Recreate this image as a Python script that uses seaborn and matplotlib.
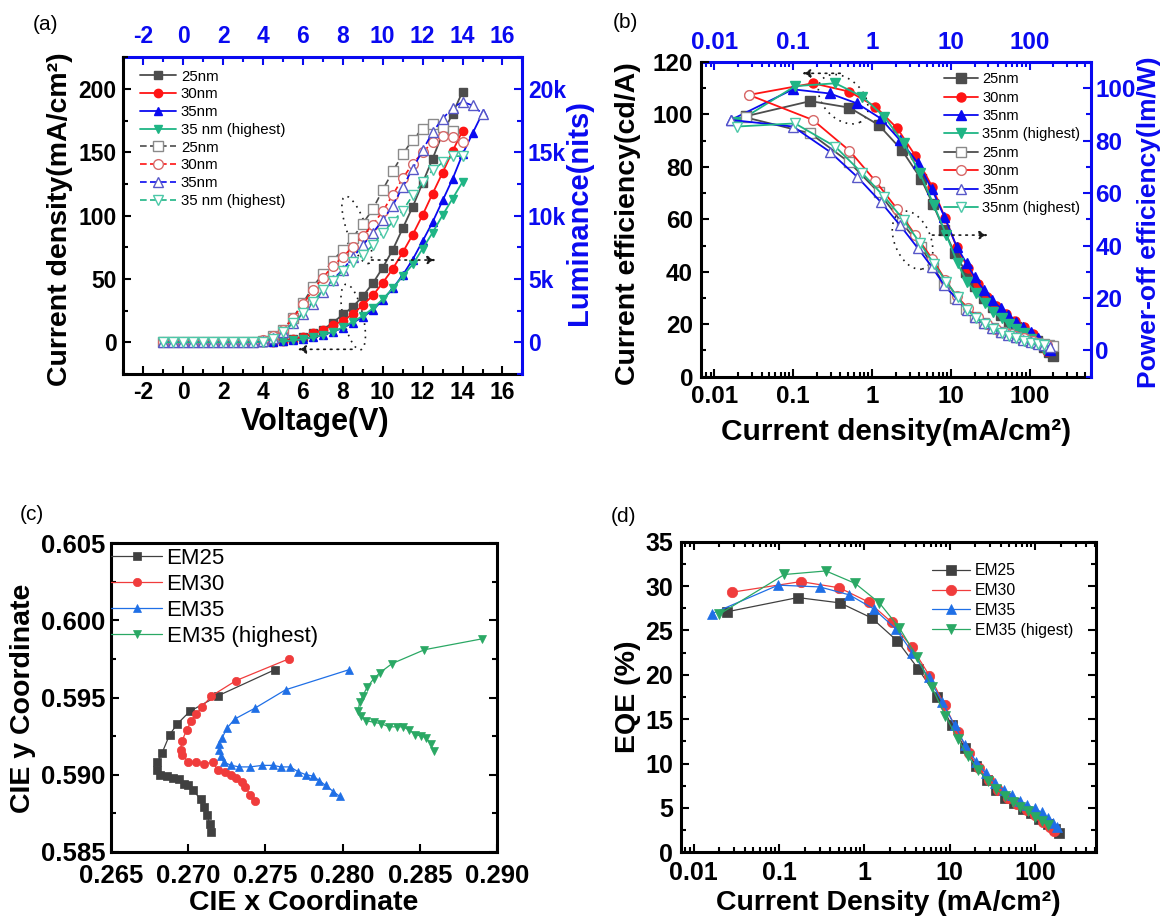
import matplotlib
matplotlib.use('Agg')
import matplotlib.pyplot as plt
import seaborn as sns
from matplotlib.ticker import MultipleLocator, FuncFormatter, FixedLocator, NullFormatter, FormatStrFormatter
from matplotlib.patches import Ellipse

sns.set_theme(style='ticks')
plt.rcParams['font.family'] = ['Liberation Sans', 'DejaVu Sans']
plt.rcParams['font.weight'] = 'bold'
plt.rcParams['axes.labelweight'] = 'bold'
plt.rcParams['axes.unicode_minus'] = False
for k in ['text.color', 'axes.labelcolor', 'xtick.color', 'ytick.color', 'axes.edgecolor']:
    plt.rcParams[k] = 'black'

# ---------------- (a) J-V-L data ----------------
V_a = [-1, -0.5, 0, 0.5, 1, 1.5, 2, 2.5, 3, 3.5, 4, 4.5, 5, 5.5, 6, 6.5, 7, 7.5, 8, 8.5,
       9, 9.5, 10, 10.5, 11, 11.5, 12, 12.5, 13, 13.5, 14]
V_a35 = V_a + [14.5, 15]
V_a25h = V_a[:-1]
J25 = [0, 0, 0, 0, 0, 0, 0, 0, 0, 0, 0.2, 0.6, 1.3, 2.4, 4.5, 7, 10, 15.5, 22, 28,
       36.5, 46.5, 59, 73, 90, 107, 126, 145, 165, 180.5, 198]
J30 = [0, 0, 0, 0, 0, 0, 0, 0, 0, 0, 0.2, 0.5, 1.3, 2.4, 4.5, 7, 9.7, 13.4, 17, 22.3,
       29.4, 37, 47, 58, 71, 85, 100.6, 117.5, 134, 151, 167]
J35 = [0, 0, 0, 0, 0, 0, 0, 0, 0, 0, 0.1, 0.3, 0.8, 1.6, 2.6, 4, 5.8, 8.4, 11.3, 15.5,
       20, 25.5, 33.4, 42.6, 53, 65.4, 80, 95, 112, 129, 148.5, 165, 181]
J35h = [0, 0, 0, 0, 0, 0, 0, 0, 0, 0, 0.1, 0.3, 0.8, 1.6, 2.6, 4, 5.8, 8.4, 11.8, 16.3,
        20.8, 26.8, 34, 42.6, 52.3, 61.5, 74, 86.7, 100.4, 113.5, 126.7]
L25 = [0, 0, 0, 0, 0, 0, 0, 0, 0, 0, 130, 500, 1000, 1950, 3100, 4400, 5400, 6450, 7330, 8250,
       9380, 10500, 12040, 13500, 14850, 16000, 16870, 17270, 17000, 16700]
L30 = [0, 0, 0, 0, 0, 0, 0, 0, 0, 0, 180, 500, 970, 1900, 3000, 4130, 5120, 6020, 6750, 7540,
       8400, 9300, 10350, 11650, 12950, 14100, 15000, 15800, 16300, 16200, 15800]
L35 = [0, 0, 0, 0, 0, 0, 0, 0, 0, 0, 80, 350, 800, 1500, 2200, 3000, 4000, 4950, 5750, 6700,
       7650, 8650, 9650, 10800, 12270, 13700, 15160, 16600, 17660, 18500, 19000, 18700, 18050]
L35h = [0, 0, 0, 0, 0, 0, 0, 0, 0, 0, 50, 300, 840, 1500, 2290, 3200, 4130, 4860, 5650, 6360,
        6890, 7670, 8670, 9500, 10400, 11600, 12670, 13600, 14200, 14700, 14700]

# ---------------- (b) efficiency data ----------------
Jb25 = [0.025, 0.166, 0.52, 1.22, 2.4, 4.2, 5.9, 8.2, 11.3, 15.5, 20.5, 26.5, 34, 43, 54, 67, 83, 102, 124, 150, 175, 195]
CE25 = [99.3, 105.1, 102.6, 96.0, 86.4, 75.4, 66, 56, 47, 40, 34.5, 30, 26.5, 23.5, 21, 19, 17.2, 15.5, 13.5, 11.5, 9.5, 7.9]
PE25 = [88.9, 82.8, 71.7, 60.3, 48.8, 39.5, 32, 25.5, 20, 16, 12.8, 10.4, 8.6, 7.2, 6.1, 5.2, 4.4, 3.7, 3.0, 2.4, 2.0, 1.7]
Jb30 = [0.028, 0.179, 0.52, 1.11, 2.1, 3.57, 5.8, 8.5, 11.9, 16.5, 22, 29, 38, 50, 65, 85, 110, 140, 165]
CE30 = [107.5, 111.9, 108.7, 103, 94.7, 84.2, 72.5, 60.5, 49.3, 41.5, 35.5, 30.5, 26.8, 23.8, 21.2, 18.8, 16.2, 12.5, 9.8]
PE30 = [97.4, 87.9, 76.2, 64.6, 53.9, 43.9, 35, 27, 20.6, 16.2, 12.8, 10.2, 8.3, 6.8, 5.6, 4.6, 3.6, 2.6, 2.0]
Jb35 = [0.0165, 0.1, 0.293, 0.652, 1.29, 2.27, 3.85, 5.78, 8.3, 11.9, 15.9, 20, 26.2, 33.8, 43, 53.5, 66.6, 83, 103, 126, 151, 179]
CE35 = [98, 109.6, 108, 104.2, 98.5, 90.2, 81.4, 71.4, 61, 49.6, 43.2, 38.1, 33, 29.2, 26.1, 23.5, 21, 19.1, 17, 14.6, 12.1, 10.2]
PE35 = [87.9, 85.4, 75.8, 66.2, 56.7, 47.8, 38.9, 31.8, 24.8, 19.7, 15.6, 12.8, 10.4, 8.6, 7.2, 6.0, 5.0, 4.1, 3.3, 2.6, 2.0, 1.5]
Jb35h = [0.0195, 0.106, 0.345, 0.76, 1.44, 2.54, 4.07, 6.1, 8.8, 12.2, 16, 21, 27, 34.5, 44, 54.7, 68, 85, 103, 126, 151]
CE35h = [97, 110.8, 111.9, 106.8, 99.1, 89, 77.5, 65.5, 54, 43.2, 36.2, 31.8, 28, 24.8, 22.2, 20.1, 18.2, 16.5, 14.5, 12.3, 10.5]
PE35h = [85.4, 86.6, 77.7, 67.5, 58.6, 49.7, 41, 33.1, 26.1, 20.4, 15.6, 12.3, 10, 8.3, 6.8, 5.6, 4.6, 3.7, 3.0, 2.4, 1.9]

# ---------------- (c) CIE data ----------------
cx25 = [0.2756, 0.2719, 0.2701, 0.2693, 0.2688, 0.2683, 0.2680, 0.2680, 0.2682, 0.2686, 0.2690,
        0.2694, 0.2697, 0.2700, 0.2703, 0.2708, 0.2710, 0.2712, 0.2714, 0.2715]
cy25 = [0.5968, 0.5951, 0.5941, 0.5933, 0.5926, 0.5914, 0.5908, 0.5903, 0.5900, 0.5899, 0.5898,
        0.5897, 0.5894, 0.5893, 0.5890, 0.5884, 0.5879, 0.5874, 0.5868, 0.5863]
cx30 = [0.2765, 0.2731, 0.2715, 0.2709, 0.2705, 0.2702, 0.2699, 0.2696, 0.2695, 0.2696, 0.2700,
        0.2705, 0.2710, 0.2716, 0.2719, 0.2724, 0.2728, 0.2731, 0.2735, 0.2737, 0.2740, 0.2743]
cy30 = [0.5975, 0.5961, 0.5951, 0.5944, 0.5939, 0.5935, 0.5929, 0.5922, 0.5916, 0.5913, 0.5908,
        0.5908, 0.5907, 0.5908, 0.5903, 0.5902, 0.5900, 0.5898, 0.5895, 0.5892, 0.5887, 0.5883]
cx35 = [0.2804, 0.2763, 0.2743, 0.2730, 0.2725, 0.2722, 0.2720, 0.2720, 0.2721, 0.2723, 0.2728,
        0.2733, 0.2740, 0.2748, 0.2755, 0.2760, 0.2766, 0.2771, 0.2776, 0.2781, 0.2785, 0.2789,
        0.2794, 0.2798]
cy35 = [0.5968, 0.5955, 0.5943, 0.5936, 0.5930, 0.5924, 0.5920, 0.5916, 0.5912, 0.5908, 0.5906,
        0.5905, 0.5905, 0.5906, 0.5906, 0.5905, 0.5905, 0.5902, 0.5900, 0.5899, 0.5896, 0.5893,
        0.5889, 0.5886]
cx35h = [0.2890, 0.2853, 0.2832, 0.2824, 0.2820, 0.2816, 0.2813, 0.2811, 0.2810, 0.2812, 0.2815,
         0.2820, 0.2825, 0.2830, 0.2835, 0.2839, 0.2843, 0.2847, 0.2851, 0.2854, 0.2857, 0.2859]
cy35h = [0.5988, 0.5981, 0.5972, 0.5966, 0.5962, 0.5957, 0.5951, 0.5947, 0.5941, 0.5938, 0.5935,
         0.5934, 0.5933, 0.5931, 0.5931, 0.5931, 0.5929, 0.5926, 0.5925, 0.5924, 0.5920, 0.5915]

# ---------------- (d) EQE data ----------------
Jd25 = [0.0247, 0.166, 0.52, 1.22, 2.44, 4.26, 7.1, 10.6, 15.2, 20.5, 27, 35, 45, 57, 72, 90, 112, 140, 170, 191]
EQE25 = [27.1, 28.7, 28.1, 26.4, 23.8, 20.7, 17.5, 14.3, 11.7, 9.7, 8.2, 7.0, 6.1, 5.5, 4.9, 4.4, 3.8, 3.2, 2.6, 2.2]
Jd30 = [0.028, 0.18, 0.51, 1.12, 2.1, 3.6, 5.8, 8.7, 12.4, 16.8, 22, 29, 37, 48, 62, 80, 100, 125, 150, 165]
EQE30 = [29.3, 30.5, 29.8, 28.2, 25.9, 23.1, 19.9, 16.6, 13.6, 11.2, 9.5, 8.1, 7.0, 6.1, 5.4, 4.8, 4.2, 3.4, 2.8, 2.4]
Jd35 = [0.0165, 0.098, 0.30, 0.67, 1.3, 2.32, 3.66, 5.66, 8.2, 11.4, 15.2, 20.5, 26.5, 34, 43, 54, 66, 81, 99, 119, 141, 161, 179]
EQE35 = [26.9, 30.1, 29.9, 29.0, 27.4, 25.2, 22.5, 19.7, 16.9, 14.3, 12.1, 10.2, 8.9, 7.8, 7.0, 6.4, 5.8, 5.3, 4.96, 4.5, 3.9, 3.3, 2.8]
Jd35h = [0.0198, 0.116, 0.355, 0.78, 1.5, 2.57, 4.14, 6.2, 8.85, 12.4, 16.4, 21.6, 27.9, 35.2, 44, 55, 67, 83, 101, 121, 142]
EQE35h = [26.8, 31.3, 31.7, 30.3, 28.1, 25.3, 22.0, 18.6, 15.4, 12.8, 10.8, 9.3, 8.0, 7.1, 6.3, 5.7, 5.1, 4.6, 4.0, 3.5, 3.1]

labels_ab_a = ['25nm', '30nm', '35nm', '35 nm (highest)']
labels_ab_b = ['25nm', '30nm', '35nm', '35nm (highest)']
labels_cd_c = ['EM25', 'EM30', 'EM35', 'EM35 (highest)']
labels_cd_d = ['EM25', 'EM30', 'EM35', 'EM35 (higest)']
log_major = [0.01, 0.1, 1, 10, 100]

# colours
A_COL = ['#4d4d4d', '#ff1414', '#0a0af0', '#1fb585']
A_HOL = ['#8a8a8a', '#d66a6a', '#5858c8', '#4cc8a8']
C_COL = ['#404040', '#f03c3c', '#1f6fe6', '#2aa864']
MARK_F = ['s', 'o', '^', 'v']

BLUE = '#0a0af0'


def log_minor(lo, hi):
    return [m * 10.0 ** e for e in range(-3, 3) for m in range(2, 10) if lo <= m * 10.0 ** e <= hi]


def draw(ax, x, y, color, marker, ms, label, mfc=None, mec=None, ls='-', lw=1.2, mew=1.0):
    sns.lineplot(x=x, y=y, ax=ax, color=color, marker=marker, markersize=ms,
                 markerfacecolor=(mfc if mfc is not None else color),
                 markeredgecolor=(mec if mec is not None else color),
                 markeredgewidth=mew, linestyle=ls, linewidth=lw, label=label,
                 sort=False, estimator=None, errorbar=None)


def kill_legend(ax):
    lg = ax.get_legend()
    if lg is not None:
        lg.remove()


def set_ylab(ax, text, x, y, size, color='black'):
    ax.set_ylabel(text, fontsize=size, color=color, rotation=90)
    ax.yaxis.label.set_va('center')
    ax.yaxis.label.set_ha('center')
    ax.yaxis.set_label_coords(x, y)


def set_xlab(ax, text, x, y, size):
    ax.set_xlabel(text, fontsize=size)
    ax.xaxis.label.set_va('center')
    ax.xaxis.set_label_coords(x, y)


def log_ticks(axis, lo, hi):
    axis.set_major_locator(FixedLocator(log_major))
    axis.set_minor_locator(FixedLocator(log_minor(lo, hi)))
    axis.set_major_formatter(FuncFormatter(lambda v, p: f'{v:g}'))
    axis.set_minor_formatter(NullFormatter())


fig = plt.figure(figsize=(11.69, 9.19), dpi=100)

# =========================== (a) ===========================
axA = fig.add_axes([0.1055, 0.5930, 0.3414, 0.3446])
axA2 = axA.twinx()
fill_sets = [(V_a, J25), (V_a, J30), (V_a35, J35), (V_a, J35h)]
hol_sets = [(V_a25h, L25), (V_a, L30), (V_a35, L35), (V_a, L35h)]
for i, (xv, yv) in enumerate(fill_sets):
    draw(axA, xv, yv, A_COL[i], MARK_F[i], 6, labels_ab_a[i], lw=1.3)
for i, (xv, yv) in enumerate(hol_sets):
    draw(axA2, xv, yv, A_COL[i], MARK_F[i], 7, labels_ab_a[i], mfc='white', mec=A_HOL[i],
         ls=(0, (4, 2)), lw=1.2)
kill_legend(axA)
kill_legend(axA2)
axA.set_xlim(-3, 17)
axA.set_ylim(-25, 225)
axA2.set_ylim(-2500, 22500)
axA.set_xticks(list(range(-2, 17, 2)))
axA.xaxis.set_minor_locator(MultipleLocator(1))
axA.set_yticks([0, 50, 100, 150, 200])
axA.yaxis.set_minor_locator(MultipleLocator(25))
axA2.set_yticks([0, 5000, 10000, 15000, 20000])
axA2.yaxis.set_minor_locator(MultipleLocator(2500))
axA2.yaxis.set_major_formatter(FuncFormatter(lambda v, p: '0' if v == 0 else f'{int(round(v / 1000))}k'))
axA.tick_params(which='both', direction='in', top=False, right=False, labelsize=16.5, width=1.5, pad=5)
axA.tick_params(which='major', length=6)
axA.tick_params(which='minor', length=3.5)
axA2.tick_params(which='both', direction='in', colors=BLUE, labelsize=16.5, width=1.5, pad=4)
axA2.tick_params(which='major', length=6)
axA2.tick_params(which='minor', length=3.5)
secA = axA.secondary_xaxis('top')
secA.set_xticks(list(range(-2, 17, 2)))
secA.xaxis.set_minor_locator(MultipleLocator(1))
secA.tick_params(which='both', direction='in', colors=BLUE, labelsize=16.5, width=1.5, pad=7)
secA.tick_params(which='major', length=6)
secA.tick_params(which='minor', length=3.5)
for s in secA.spines.values():
    s.set_color(BLUE)
    s.set_linewidth(2.2)
for nm in ['top', 'right']:
    axA.spines[nm].set_visible(False)
for nm in ['top', 'left', 'bottom']:
    axA2.spines[nm].set_visible(False)
axA.spines['left'].set_linewidth(2.2)
axA.spines['bottom'].set_linewidth(2.2)
axA2.spines['right'].set_linewidth(2.2)
axA2.spines['right'].set_color(BLUE)
set_xlab(axA, 'Voltage(V)', 0.48, -0.15, 22)
set_ylab(axA, 'Current density(mA/cm²)', -0.159, 0.49, 20.5)
set_ylab(axA2, 'Luminance(nits)', 1.142, 0.51, 21, color=BLUE)
hA = axA.get_lines() + axA2.get_lines()
axA2.legend(hA, labels_ab_a + labels_ab_a, loc='upper left', bbox_to_anchor=(0.02, 0.99),
            frameon=False, prop={'weight': 'normal', 'size': 10.8}, handlelength=2.4,
            handletextpad=0.3, labelspacing=0.25, borderaxespad=0.2)
# dotted guides
axA.add_patch(Ellipse((0.585, 0.455), 0.05, 0.22, angle=15, transform=axA.transAxes,
                      fill=False, ls=(0, (1, 3)), lw=1.2, color='k'))
axA.add_patch(Ellipse((0.576, 0.18), 0.05, 0.21, angle=10, transform=axA.transAxes,
                      fill=False, ls=(0, (1, 3)), lw=1.2, color='k'))
axA.annotate('', xy=(12.8, 65), xytext=(9.3, 65),
             arrowprops=dict(arrowstyle='-|>', ls=(0, (1, 3)), lw=1.2, color='k', mutation_scale=12))
axA.annotate('', xy=(5.6, -5.5), xytext=(8.6, -5.5),
             arrowprops=dict(arrowstyle='-|>', ls=(0, (1, 3)), lw=1.2, color='k', mutation_scale=12))

# =========================== (b) ===========================
axB = fig.add_axes([0.600, 0.5901, 0.3333, 0.3424])
axB.set_xscale('log')
axB2 = axB.twinx()
b_fill = [(Jb25, CE25), (Jb30, CE30), (Jb35, CE35), (Jb35h, CE35h)]
b_hol = [(Jb25, PE25), (Jb30, PE30), (Jb35, PE35), (Jb35h, PE35h)]
for i, (xv, yv) in enumerate(b_fill):
    draw(axB, xv, yv, A_COL[i], MARK_F[i], 6.5, labels_ab_b[i], lw=1.3)
for i, (xv, yv) in enumerate(b_hol):
    draw(axB2, xv, yv, A_COL[i], MARK_F[i], 7, labels_ab_b[i], mfc='white', mec=A_HOL[i], lw=1.3)
kill_legend(axB)
kill_legend(axB2)
axB.set_xlim(0.0069, 600)
axB.set_ylim(0, 120)
axB2.set_ylim(-10, 110)
log_ticks(axB.xaxis, 0.0069, 600)
axB.set_yticks(list(range(0, 121, 20)))
axB.yaxis.set_minor_locator(MultipleLocator(10))
axB2.set_yticks(list(range(0, 101, 20)))
axB2.yaxis.set_minor_locator(MultipleLocator(10))
axB.tick_params(which='both', direction='in', top=False, right=False, labelsize=17.5, width=1.5, pad=6)
axB.tick_params(which='major', length=6)
axB.tick_params(which='minor', length=3.5)
axB2.tick_params(which='both', direction='in', colors=BLUE, labelsize=17.5, width=1.5, pad=3)
axB2.tick_params(which='major', length=6)
axB2.tick_params(which='minor', length=3.5)
secB = axB.secondary_xaxis('top')
log_ticks(secB.xaxis, 0.0069, 600)
secB.tick_params(which='both', direction='in', colors=BLUE, labelsize=17.5, width=1.5, pad=6)
secB.tick_params(which='major', length=6)
secB.tick_params(which='minor', length=3.5)
for s in secB.spines.values():
    s.set_color(BLUE)
    s.set_linewidth(2.2)
for nm in ['top', 'right']:
    axB.spines[nm].set_visible(False)
for nm in ['top', 'left', 'bottom']:
    axB2.spines[nm].set_visible(False)
axB.spines['left'].set_linewidth(2.2)
axB.spines['bottom'].set_linewidth(2.2)
axB2.spines['right'].set_linewidth(2.2)
axB2.spines['right'].set_color(BLUE)
set_xlab(axB, 'Current density(mA/cm²)', 0.5, -0.176, 21.5)
set_ylab(axB, 'Current efficiency(cd/A)', -0.188, 0.485, 20.5)
set_ylab(axB2, 'Power-off efficiency(lm/W)', 1.148, 0.49, 19, color=BLUE)
hB = axB.get_lines() + axB2.get_lines()
axB2.legend(hB, labels_ab_b + labels_ab_b, loc='upper right', bbox_to_anchor=(0.995, 0.995),
            frameon=False, prop={'weight': 'normal', 'size': 10.5}, handlelength=2.3,
            handletextpad=0.3, labelspacing=0.3, borderaxespad=0.2)
axB.add_patch(Ellipse((0.364, 0.882), 0.11, 0.17, angle=30, transform=axB.transAxes,
                      fill=False, ls=(0, (1, 3)), lw=1.2, color='k'))
axB.add_patch(Ellipse((0.542, 0.434), 0.095, 0.19, angle=15, transform=axB.transAxes,
                      fill=False, ls=(0, (1, 3)), lw=1.2, color='k'))
axB.annotate('', xy=(0.12, 115.7), xytext=(0.43, 115.7),
             arrowprops=dict(arrowstyle='-|>', ls=(0, (1, 3)), lw=1.2, color='k', mutation_scale=12))
axB.annotate('', xy=(32, 54), xytext=(5.4, 54),
             arrowprops=dict(arrowstyle='-|>', ls=(0, (1, 3)), lw=1.2, color='k', mutation_scale=12))

# =========================== (c) ===========================
axC = fig.add_axes([0.0950, 0.0732, 0.3302, 0.3356])
c_sets = [(cx25, cy25), (cx30, cy30), (cx35, cy35), (cx35h, cy35h)]
for i, (xv, yv) in enumerate(c_sets):
    draw(axC, xv, yv, C_COL[i], MARK_F[i], 6, labels_cd_c[i], lw=0.9, mew=0.5)
kill_legend(axC)
axC.set_xlim(0.265, 0.290)
axC.set_ylim(0.585, 0.605)
axC.set_xticks([0.265, 0.270, 0.275, 0.280, 0.285, 0.290])
axC.set_yticks([0.585, 0.590, 0.595, 0.600, 0.605])
axC.yaxis.set_minor_locator(MultipleLocator(0.0025))
axC.xaxis.set_major_formatter(FormatStrFormatter('%.3f'))
axC.yaxis.set_major_formatter(FormatStrFormatter('%.3f'))
axC.tick_params(which='both', direction='in', right=True, labelsize=18.5, width=1.5)
axC.tick_params(axis='x', pad=9)
axC.tick_params(axis='y', pad=4)
axC.tick_params(which='major', length=6)
axC.tick_params(which='minor', length=3.5)
for s in axC.spines.values():
    s.set_linewidth(2.2)
set_xlab(axC, 'CIE x Coordinate', 0.499, -0.165, 20.5)
set_ylab(axC, 'CIE y Coordinate', -0.228, 0.498, 20.5)
axC.legend(loc='upper left', bbox_to_anchor=(0.0, 0.985), frameon=False,
           prop={'weight': 'normal', 'size': 16}, handlelength=2.3, handletextpad=0.2,
           labelspacing=0.22, borderaxespad=0.0, borderpad=0.0)

# =========================== (d) ===========================
axD = fig.add_axes([0.5829, 0.0726, 0.3545, 0.3380])
axD.set_xscale('log')
d_sets = [(Jd25, EQE25), (Jd30, EQE30), (Jd35, EQE35), (Jd35h, EQE35h)]
for i, (xv, yv) in enumerate(d_sets):
    draw(axD, xv, yv, C_COL[i], MARK_F[i], 7.5, labels_cd_d[i], lw=0.9, mew=0.5)
kill_legend(axD)
axD.set_xlim(0.0072, 515)
axD.set_ylim(0, 35)
log_ticks(axD.xaxis, 0.0072, 515)
axD.set_yticks(list(range(0, 36, 5)))
axD.yaxis.set_minor_locator(MultipleLocator(2.5))
axD.tick_params(which='both', direction='in', top=True, right=True, labelsize=18, width=1.5, pad=6)
axD.tick_params(which='major', length=6)
axD.tick_params(which='minor', length=3.5)
for s in axD.spines.values():
    s.set_linewidth(2.2)
set_xlab(axD, 'Current Density (mA/cm²)', 0.499, -0.163, 20.5)
set_ylab(axD, 'EQE (%)', -0.129, 0.5, 20.5)
axD.legend(loc='upper right', bbox_to_anchor=(0.96, 0.95), frameon=False,
           prop={'weight': 'normal', 'size': 11.3}, handlelength=2.4, handletextpad=0.3,
           labelspacing=0.3, borderaxespad=0.0)

# panel letters
for txt, px, py in [('(a)', 46, 24), ('(b)', 625, 23), ('(c)', 32, 514), ('(d)', 623, 517)]:
    fig.text(px / 1169, 1 - py / 919, txt, fontsize=15, fontweight='normal', ha='center', va='center')

fig.savefig('out.png', dpi=100)
